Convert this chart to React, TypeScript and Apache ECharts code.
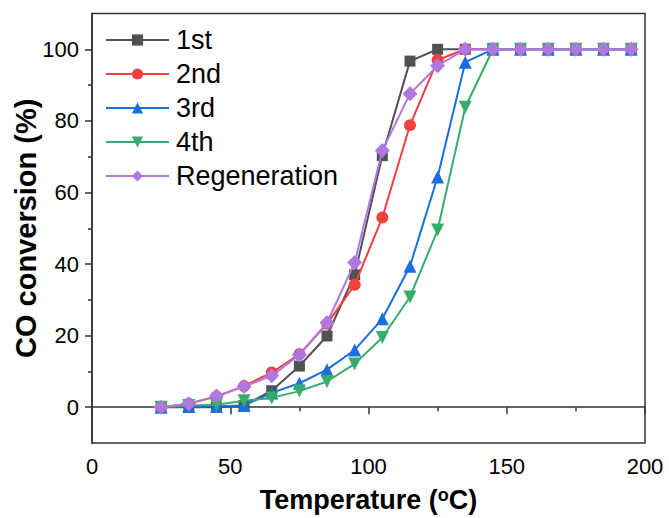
import React, { useEffect, useRef } from "react";
import * as echarts from "echarts";

const temperatures = [25, 35, 45, 55, 65, 75, 85, 95, 105, 115, 125, 135, 145, 155, 165, 175, 185, 195];
const firstRun = [0, 0, 0, 0.5, 4.6, 11.5, 19.9, 37.0, 70.3, 96.7, 100, 100, 100, 100, 100, 100, 100, 100];
const secondRun = [0, 1.0, 3.0, 5.9, 9.7, 14.8, 23.3, 34.2, 53.0, 78.8, 97.0, 100, 100, 100, 100, 100, 100, 100];
const thirdRun = [0, 0.2, 0.3, 0.5, 4.0, 6.7, 10.5, 16.0, 24.7, 39.4, 64.3, 96.4, 100, 100, 100, 100, 100, 100];
const fourthRun = [0, 0.5, 0.7, 1.8, 2.6, 4.5, 7.2, 12.1, 19.5, 30.8, 49.5, 83.8, 100, 100, 100, 100, 100, 100];
const regeneration = [0, 1.0, 3.1, 5.8, 8.8, 14.6, 23.6, 40.4, 71.7, 87.6, 95.4, 100, 100, 100, 100, 100, 100, 100];

const seriesNames = ["1st", "2nd", "3rd", "4th", "Regeneration"];
const yMajorTicks = [0, 20, 40, 60, 80, 100];
const yMinorTicks = [10, 30, 50, 70, 90];

const FONT = "'Liberation Sans', Arial, Helvetica, sans-serif";

export default function App() {
  const ref = useRef<HTMLDivElement>(null);
  useEffect(() => {
    if (!ref.current) return;
    const chart = echarts.init(ref.current, undefined, { renderer: "svg" });
    const pair = (ys: number[]) => temperatures.map((t, i) => [t, ys[i]]);
    const styles = [
      { data: firstRun, color: "#515151", symbol: "rect", size: 11, rotate: 0 },
      { data: secondRun, color: "#F14040", symbol: "circle", size: 12, rotate: 0 },
      { data: thirdRun, color: "#1A6FDF", symbol: "triangle", size: 13, rotate: 0 },
      { data: fourthRun, color: "#37AD6B", symbol: "triangle", size: 13, rotate: 180 },
      { data: regeneration, color: "#B177DE", symbol: "diamond", size: 15, rotate: 0 },
    ];
    const axisColor = "#333";
    chart.setOption({
      animation: false,
      textStyle: { fontFamily: FONT },
      grid: {
        left: 92,
        right: 24,
        top: 13.5,
        bottom: 75,
        outerBoundsMode: "none",
        containLabel: false,
        show: true,
        borderColor: axisColor,
        borderWidth: 1.5,
        backgroundColor: "transparent",
      },
      legend: {
        orient: "vertical",
        left: 100,
        top: 18,
        itemWidth: 63,
        itemHeight: 14,
        itemGap: 0,
        data: seriesNames,
        textStyle: { fontSize: 27, color: "#000", fontFamily: FONT, lineHeight: 34, padding: [0, 0, 0, 2] },
      },
      xAxis: {
        type: "value",
        min: 0,
        max: 200,
        interval: 50,
        name: "Temperature ({sup|o}C)",
        nameLocation: "middle",
        nameGap: 43,
        nameMoveOverlap: false,
        nameTextStyle: {
          fontSize: 27,
          fontWeight: "bold",
          color: "#000",
          fontFamily: FONT,
          rich: {
            sup: { fontSize: 18, fontWeight: "bold", color: "#000", fontFamily: FONT, verticalAlign: "top", padding: [0, 0, 10, 0] },
          },
        },
        axisLine: { show: true, lineStyle: { color: axisColor, width: 1.5 } },
        axisTick: { show: true, inside: false, length: 7, lineStyle: { color: axisColor, width: 1.5 } },
        minorTick: { show: true, splitNumber: 2, length: 4, lineStyle: { color: axisColor, width: 1.5 } },
        axisLabel: { fontSize: 22, color: "#000", margin: 12, fontFamily: FONT },
        splitLine: { show: false },
      },
      yAxis: [
        {
          type: "value",
          min: -10,
          max: 110,
          position: "left",
          name: "CO conversion (%)",
          nameLocation: "middle",
          nameGap: 52,
          nameMoveOverlap: false,
          nameTextStyle: { fontSize: 29, fontWeight: "bold", color: "#000", fontFamily: FONT },
          axisLine: { show: true, lineStyle: { color: axisColor, width: 1.5 } },
          axisTick: { show: true, inside: false, length: 7, customValues: yMajorTicks, lineStyle: { color: axisColor, width: 1.5 } },
          axisLabel: { fontSize: 22, color: "#000", margin: 13, customValues: yMajorTicks, fontFamily: FONT },
          splitLine: { show: false },
        },
        {
          type: "value",
          min: -10,
          max: 110,
          position: "left",
          offset: 0,
          axisLine: { show: false },
          axisTick: { show: true, inside: false, length: 4, customValues: yMinorTicks, lineStyle: { color: axisColor, width: 1.5 } },
          axisLabel: { show: false },
          splitLine: { show: false },
        },
      ],
      series: styles.map((s, i) => ({
        name: seriesNames[i],
        type: "line",
        yAxisIndex: 0,
        data: pair(s.data),
        symbol: s.symbol,
        symbolSize: s.size,
        symbolRotate: s.rotate,
        showSymbol: true,
        color: s.color,
        lineStyle: { color: s.color, width: 2 },
        itemStyle: { color: s.color },
        z: 2 + i,
      })),
    });
    return () => chart.dispose();
  }, []);
  return <div ref={ref} style={{ width: 669, height: 518, position: "absolute", left: 0, top: 0 }} />;
}
